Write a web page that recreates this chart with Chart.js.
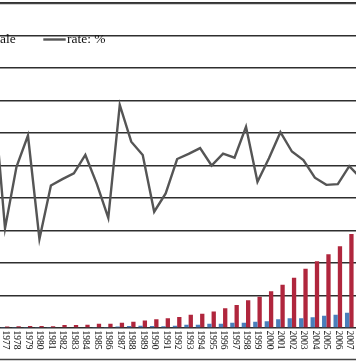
<!DOCTYPE html>
<html>
<head>
<meta charset="utf-8">
<script src="https://cdn.jsdelivr.net/npm/chart.js@4/dist/chart.umd.min.js"></script>
<style>
  html, body { margin: 0; padding: 0; background: #fff; }
  #wrap { position: relative; width: 356px; height: 364px; overflow: hidden; background: #fff; }
  #c { position: absolute; left: -40px; top: 0; }
</style>
</head>
<body>
<div id="wrap"><canvas id="c" width="420" height="364"></canvas></div>
<script>
// ---- data ----
const years = ['1976','1977','1978','1979','1980','1981','1982','1983','1984','1985','1986',
  '1987','1988','1989','1990','1991','1992','1993','1994','1995','1996','1997','1998','1999',
  '2000','2001','2002','2003','2004','2005','2006','2007','2008'];
const blueValues = [15,15,15,18,18,18,22,22,25,29,29,44,59,68,59,50,68,97,97,126,126,156,156,185,
  197,256,285,285,318,359,388,450,479];
const redValues = [40,44,53,59,59,53,88,88,97,126,126,153,185,224,256,288,324,388,421,485,582,676,
  815,918,1082,1274,1476,1741,1962,2171,2403,2765,3090];
const rateValues = [69.4,29.3,47.4,56.6,26.2,41.9,43.8,45.5,50.9,42.4,32.4,65.6,54.8,50.9,34.2,39.6,
  49.7,51.2,52.9,47.8,51.3,50.1,59.2,43.0,49.9,57.6,51.9,49.4,44.2,42.1,42.3,47.6,44.1];
const seriesLabels = ['number', 'scale', 'rate: %'];

const SERIF = "'Liberation Serif', 'Times New Roman', serif";

const decorPlugin = {
  id: 'decor',
  afterDraw(chart) {
    const ctx = chart.ctx;
    const xs = chart.scales.x;
    // frame lines
    ctx.save();
    ctx.strokeStyle = '#444';
    ctx.lineWidth = 1.6;
    ctx.beginPath();
    ctx.moveTo(0, 3.5); ctx.lineTo(chart.width, 3.5);
    ctx.moveTo(0, 359.5); ctx.lineTo(chart.width, 359.5);
    ctx.stroke();
    ctx.restore();
    // rotated category labels
    ctx.save();
    ctx.fillStyle = '#111';
    ctx.font = '9.5px ' + SERIF;
    ctx.textAlign = 'left';
    ctx.textBaseline = 'middle';
    chart.data.labels.forEach((lab, i) => {
      const x = xs.getPixelForValue(i);
      ctx.save();
      ctx.translate(x + 0.5, 330.5);
      ctx.rotate(Math.PI / 2);
      ctx.fillText(lab, 0, 0);
      ctx.restore();
    });
    ctx.restore();
    // legend
    const ds = chart.data.datasets;
    ctx.save();
    ctx.font = '13.5px ' + SERIF;
    ctx.textBaseline = 'middle';
    ctx.textAlign = 'left';
    ctx.fillStyle = '#111';
    const ly = 39.5;
    const lineX = 83.3;
    ctx.strokeStyle = ds[2].borderColor;
    ctx.lineWidth = 2.4;
    ctx.beginPath(); ctx.moveTo(lineX, ly); ctx.lineTo(lineX + 22.4, ly); ctx.stroke();
    ctx.fillText(ds[2].label, lineX + 23.6, ly);
    let right = 55.7;
    for (let k = 1; k >= 0; k--) {
      const w = ctx.measureText(ds[k].label).width;
      const tx = right - w;
      ctx.fillStyle = '#111';
      ctx.fillText(ds[k].label, tx, ly);
      ctx.fillStyle = ds[k].backgroundColor;
      ctx.fillRect(tx - 10, ly - 3.5, 7, 7);
      right = tx - 10 - 27;
    }
    ctx.restore();
  }
};

new Chart(document.getElementById('c'), {
  type: 'bar',
  data: {
    labels: years,
    datasets: [
      { type: 'bar', label: seriesLabels[0], data: blueValues, backgroundColor: '#4a7ebb',
        yAxisID: 'y', order: 2, categoryPercentage: 0.75, barPercentage: 1.0 },
      { type: 'bar', label: seriesLabels[1], data: redValues, backgroundColor: '#b0263d',
        yAxisID: 'y', order: 2, categoryPercentage: 0.75, barPercentage: 1.0 },
      { type: 'line', label: seriesLabels[2], data: rateValues, borderColor: '#555555',
        borderWidth: 2.4, pointRadius: 0, tension: 0, fill: false, yAxisID: 'y1', order: 0 }
    ]
  },
  options: {
    responsive: false,
    animation: false,
    devicePixelRatio: 1,
    layout: { padding: { left: 27.8, right: 13.5, top: 3, bottom: 36 } },
    plugins: { legend: { display: false }, tooltip: { enabled: false }, title: { display: false } },
    scales: {
      x: { display: false, offset: true },
      y: {
        display: true, position: 'left', min: 0, max: 9558.8,
        ticks: { display: false, stepSize: 1000, includeBounds: false },
        grid: { color: '#2e2e2e', lineWidth: 1.4, drawTicks: false },
        border: { display: false }
      },
      y1: { display: false, position: 'right', min: 0, max: 95.588 }
    }
  },
  plugins: [decorPlugin]
});
</script>
</body>
</html>
